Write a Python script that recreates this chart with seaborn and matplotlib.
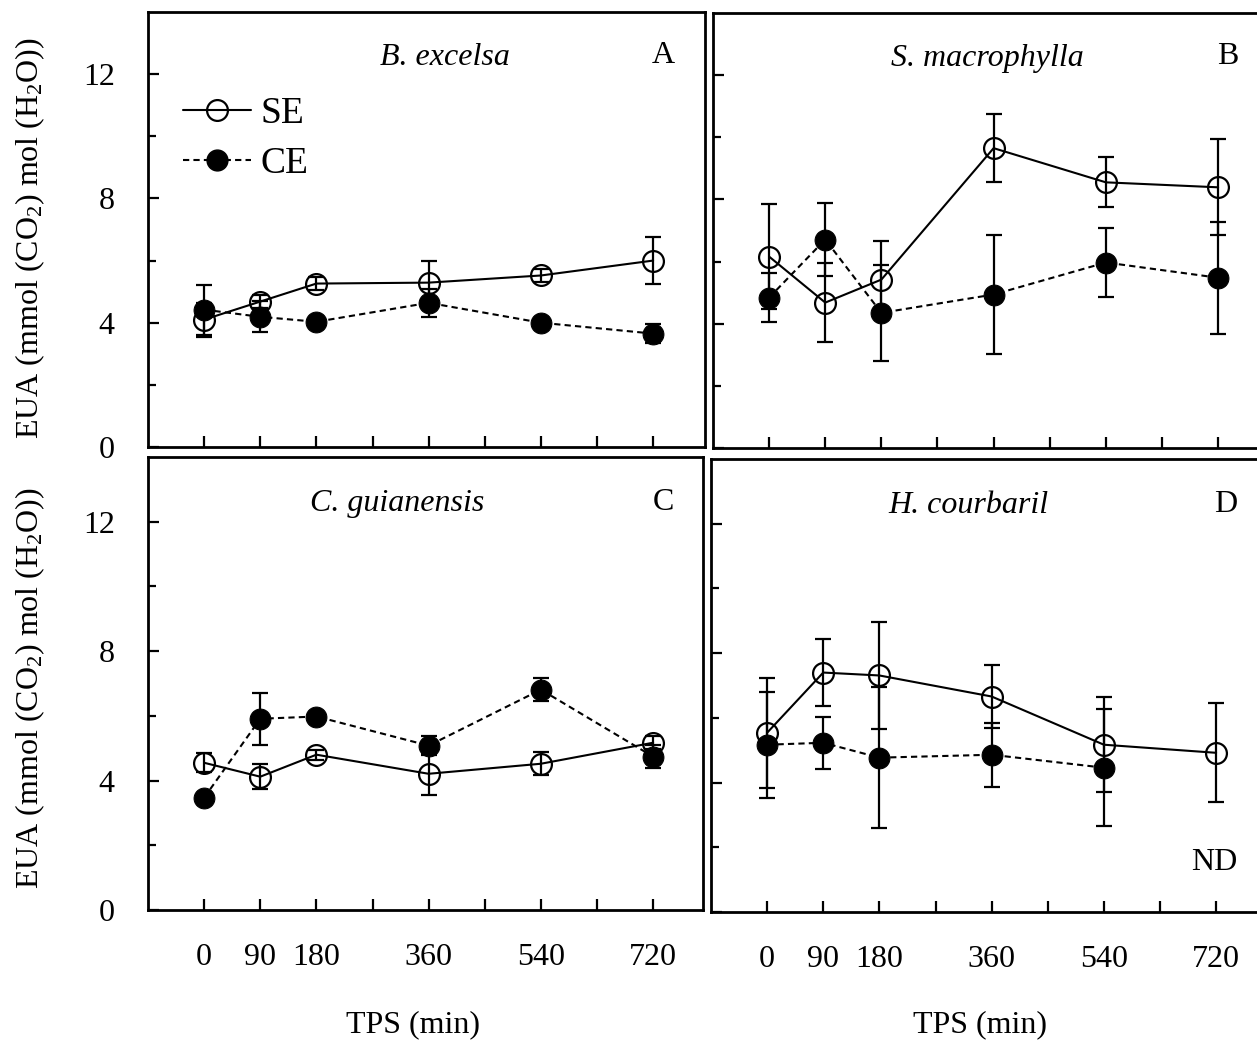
import numpy as np
import pandas as pd
import matplotlib
matplotlib.use("Agg")
import matplotlib.pyplot as plt
import seaborn as sns
from matplotlib.ticker import FixedLocator
from matplotlib.lines import Line2D

# ---------------- data ----------------
times = [0, 90, 180, 360, 540, 720]
xtick_pos = [0, 90, 180, 270, 360, 450, 540, 630, 720]
xtick_labels = ["0", "90", "180", "", "360", "", "540", "", "720"]

A_se = [4.10, 4.68, 5.26, 5.29, 5.52, 6.00]
A_se_err = [0.55, 0.20, 0.20, 0.70, 0.20, 0.75]
A_ce = [4.42, 4.19, 4.03, 4.64, 4.00, 3.65]
A_ce_err = [0.80, 0.50, 0.05, 0.45, 0.05, 0.30]

B_se = [6.16, 4.68, 5.42, 9.65, 8.55, 8.39]
B_se_err = [1.68, 1.26, 1.23, 1.10, 0.80, 1.55]
B_ce = [4.84, 6.71, 4.35, 4.94, 5.97, 5.48]
B_ce_err = [0.80, 1.16, 1.55, 1.92, 1.10, 1.80]

C_se = [4.55, 4.12, 4.80, 4.21, 4.52, 5.17]
C_se_err = [0.30, 0.38, 0.15, 0.65, 0.35, 0.20]
C_ce = [3.47, 5.91, 5.98, 5.08, 6.81, 4.74]
C_ce_err = [0.05, 0.80, 0.05, 0.30, 0.35, 0.35]

D_se = [5.54, 7.40, 7.31, 6.66, 5.17, 4.92]
D_se_err = [1.70, 1.03, 1.64, 0.96, 1.46, 1.53]
D_ce = [5.17, 5.23, 4.77, 4.86, 4.46, np.nan]
D_ce_err = [1.64, 0.80, 2.17, 0.99, 1.80, np.nan]

species = ["B. excelsa", "S. macrophylla", "C. guianensis", "H. courbaril"]
letters = ["A", "B", "C", "D"]
ylabel = "EUA (mmol (CO$_2$) mol (H$_2$O))"
xlabel = "TPS (min)"

# ---------------- style ----------------
sns.set_style("ticks")
plt.rcParams["font.family"] = ["Liberation Serif", "DejaVu Serif"]
plt.rcParams["mathtext.fontset"] = "custom"
plt.rcParams["mathtext.rm"] = "Liberation Serif"
plt.rcParams["mathtext.it"] = "Liberation Serif:italic"
plt.rcParams["mathtext.bf"] = "Liberation Serif:bold"
plt.rcParams["text.color"] = "black"
plt.rcParams["axes.labelcolor"] = "black"
plt.rcParams["xtick.color"] = "black"
plt.rcParams["ytick.color"] = "black"
plt.rcParams["legend.labelcolor"] = "black"

W, H = 1257, 1040
fig = plt.figure(figsize=(W / 100, H / 100), dpi=100)

def frac(left, top, right, bottom):
    return [left / W, 1 - bottom / H, (right - left) / W, (bottom - top) / H]

boxes = [frac(148, 12, 705, 447), frac(713, 13, 1270, 448),
         frac(148, 457, 703, 910), frac(711, 459, 1268, 912)]
data = [(A_se, A_se_err, A_ce, A_ce_err), (B_se, B_se_err, B_ce, B_ce_err),
        (C_se, C_se_err, C_ce, C_ce_err), (D_se, D_se_err, D_ce, D_ce_err)]
title_x = [386, 350, 310, 322]

FS = 23
px_per_min = 449 / 720.0

for i, (box, (se, see, ce, cee)) in enumerate(zip(boxes, data)):
    ax = fig.add_axes(box)
    width_px = box[2] * W
    ax.set_xlim(-90, -90 + width_px / px_per_min)
    ax.set_ylim(0, 14)

    df = pd.DataFrame({"t": times * 2, "v": list(se) + list(ce),
                       "g": ["SE"] * 6 + ["CE"] * 6}).dropna()
    # error bars
    ax.errorbar(times, se, yerr=see, fmt="none", ecolor="black", elinewidth=1.6,
                capsize=5.5, capthick=1.6, zorder=2)
    ax.errorbar(times, ce, yerr=cee, fmt="none", ecolor="black", elinewidth=1.6,
                capsize=5.5, capthick=1.6, zorder=2)
    sub_ce = df[df.g == "CE"]
    sub_se = df[df.g == "SE"]
    sns.lineplot(data=sub_ce, x="t", y="v", ax=ax, color="black", lw=1.5,
                 linestyle=(0, (3, 2)), marker="o", markersize=15,
                 markerfacecolor="black", markeredgecolor="black", zorder=3,
                 legend=False)
    sns.lineplot(data=sub_se, x="t", y="v", ax=ax, color="black", lw=1.5,
                 marker="o", markersize=15, markerfacecolor="none",
                 markeredgecolor="black", markeredgewidth=1.6, zorder=4,
                 legend=False)

    for s in ax.spines.values():
        s.set_visible(True)
        s.set_linewidth(2)
        s.set_color("black")

    ax.xaxis.set_major_locator(FixedLocator(xtick_pos))
    ax.yaxis.set_major_locator(FixedLocator([0, 4, 8, 12]))
    ax.yaxis.set_minor_locator(FixedLocator([2, 6, 10]))
    ax.tick_params(axis="both", which="both", direction="in", width=1.6,
                   colors="black", labelsize=FS, top=False, right=False)
    ax.tick_params(axis="both", which="major", length=8)
    ax.tick_params(axis="y", which="minor", length=6)
    ax.tick_params(axis="x", pad=24)
    ax.tick_params(axis="y", pad=24)

    if i >= 2:
        ax.set_xticklabels(xtick_labels)
    else:
        ax.set_xticklabels([])
    if i % 2 == 1:
        ax.set_yticklabels([])
    ax.set_xlabel("")
    ax.set_ylabel("")

    ax.text(title_x[i], 12.55, species[i], fontsize=FS, style="italic",
            ha="center", va="center", color="black")
    ax.text(736, 12.6, letters[i], fontsize=FS, ha="center", va="center",
            color="black")

    if i == 3:
        ax.text(717, 1.52, "ND", fontsize=FS, ha="center", va="center",
                color="black")

    if i == 0:
        handles = [
            Line2D([], [], color="black", lw=1.5, marker="o", markersize=15,
                   markerfacecolor="none", markeredgewidth=1.6),
            Line2D([], [], color="black", lw=1.5, linestyle=(0, (3, 2)),
                   marker="o", markersize=15, markerfacecolor="black"),
        ]
        ax.legend(handles, ["SE", "CE"], loc="upper left",
                  bbox_to_anchor=(0.063, 0.806), frameon=False, fontsize=27,
                  handlelength=1.8, handletextpad=0.27, labelspacing=0.41,
                  borderpad=0, borderaxespad=0, labelcolor="black")

fig.text(30 / W, 1 - 238 / H, ylabel, rotation=90, fontsize=FS,
         ha="center", va="center", color="black")
fig.text(30 / W, 1 - 688 / H, ylabel, rotation=90, fontsize=FS,
         ha="center", va="center", color="black")
fig.text(413 / W, 1 - 1025 / H, xlabel, fontsize=FS, ha="center", va="center",
         color="black")
fig.text(980 / W, 1 - 1025 / H, xlabel, fontsize=FS, ha="center", va="center",
         color="black")

fig.savefig("out.png", dpi=100)
